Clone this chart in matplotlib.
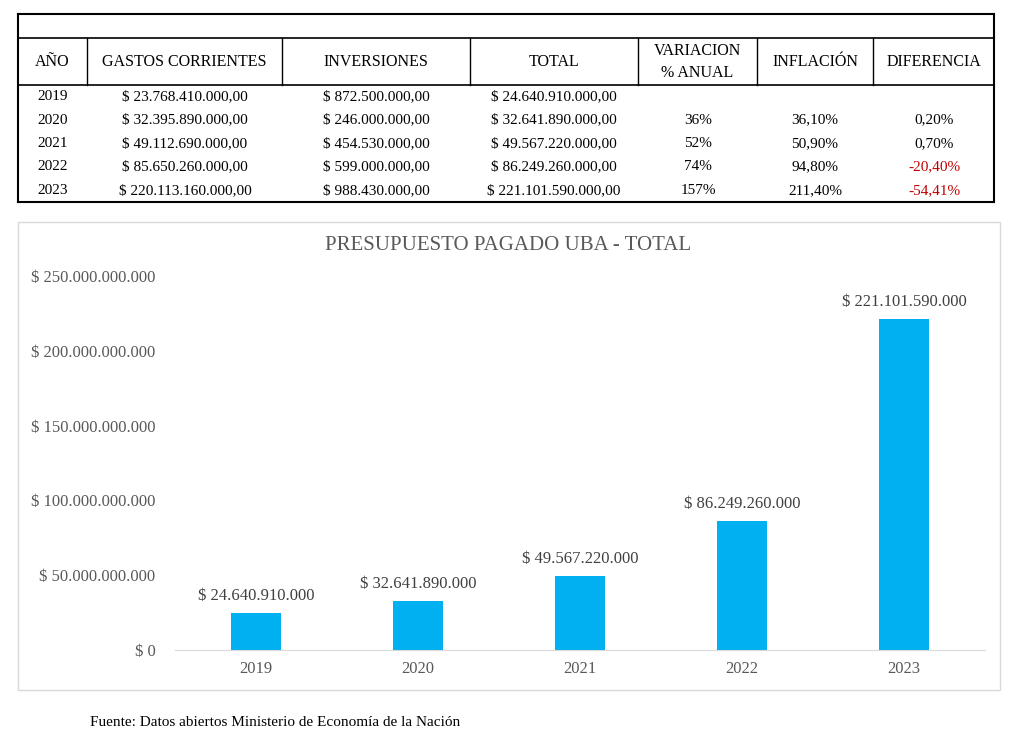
import matplotlib.pyplot as plt
from matplotlib.lines import Line2D
from matplotlib.patches import Rectangle

plt.rcParams['font.family'] = ['Liberation Serif', 'DejaVu Serif']

years = ["2019", "2020", "2021", "2022", "2023"]
gastos = ["$ 23.768.410.000,00", "$ 32.395.890.000,00", "$ 49.112.690.000,00",
          "$ 85.650.260.000,00", "$ 220.113.160.000,00"]
inversiones = ["$ 872.500.000,00", "$ 246.000.000,00", "$ 454.530.000,00",
               "$ 599.000.000,00", "$ 988.430.000,00"]
total_txt = ["$ 24.640.910.000,00", "$ 32.641.890.000,00", "$ 49.567.220.000,00",
             "$ 86.249.260.000,00", "$ 221.101.590.000,00"]
variacion = ["", "36%", "52%", "74%", "157%"]
inflacion = ["", "36,10%", "50,90%", "94,80%", "211,40%"]
diferencia = ["", "0,20%", "0,70%", "-20,40%", "-54,41%"]
headers = ["AÑO", "GASTOS CORRIENTES", "INVERSIONES", "TOTAL",
           "VARIACION\n% ANUAL", "INFLACIÓN", "DIFERENCIA"]
totals = [24640910000, 32641890000, 49567220000, 86249260000, 221101590000]
bar_labels = ["$ 24.640.910.000", "$ 32.641.890.000", "$ 49.567.220.000",
              "$ 86.249.260.000", "$ 221.101.590.000"]

W, H = 1024, 740
fig = plt.figure(figsize=(W / 100, H / 100), dpi=100)

def fx(x):
    return x / W

def fy(y):
    return 1 - y / H

def hline(x0, x1, y, lw=1.2):
    fig.add_artist(Line2D([fx(x0), fx(x1)], [fy(y), fy(y)], color='black', lw=lw))

def vline(x, y0, y1, lw=1.0):
    fig.add_artist(Line2D([fx(x), fx(x)], [fy(y0), fy(y1)], color='black', lw=lw))

# table
cols = [18, 87, 282, 470, 638, 757, 873, 994]
hline(18, 994, 14, 1.5)
hline(18, 994, 38, 1.2)
hline(18, 994, 85, 1.2)
hline(18, 994, 202, 1.5)
vline(18, 14, 202, 1.5)
vline(994, 14, 202, 1.5)
for c in cols[1:-1]:
    vline(c, 38, 85)
for i, h in enumerate(headers):
    fig.text(fx((cols[i] + cols[i + 1]) / 2), fy(62), h, ha='center', va='center',
             fontsize=11.5, linespacing=1.5)
centers = [53, 185, 376, 554, 698, 815, 934]
row_h = 23.4
for r in range(5):
    y = fy(85 + row_h * (r + 0.5))
    vals = [years[r], gastos[r], inversiones[r], total_txt[r],
            variacion[r], inflacion[r], diferencia[r]]
    for i, v in enumerate(vals):
        color = '#c00000' if v.startswith('-') else 'black'
        fig.text(fx(centers[i]), y, v, ha='center', va='center', fontsize=11, color=color)

# chart
fig.add_artist(Rectangle((fx(18), fy(690)), fx(1000) - fx(18), fy(222) - fy(690),
                         fill=False, edgecolor='#d9d9d9', lw=1))
ax = fig.add_axes([fx(175), fy(650), fx(985) - fx(175), fy(276) - fy(650)])
x = range(len(years))
ax.bar(x, totals, width=0.31, color='#00b0f0')
for i, v in enumerate(totals):
    ax.text(i, v + 6e9, bar_labels[i], ha='center', va='bottom', fontsize=12, color='#404040')
ax.set_xlim(-0.5, 4.5)
ax.set_ylim(0, 250e9)
ax.set_xticks(list(x))
ax.set_xticklabels(years, fontsize=12, color='#595959')
ticks = [0, 50e9, 100e9, 150e9, 200e9, 250e9]
ax.set_yticks(ticks)
ax.set_yticklabels(["$ 0", "$ 50.000.000.000", "$ 100.000.000.000", "$ 150.000.000.000",
                    "$ 200.000.000.000", "$ 250.000.000.000"], fontsize=12, color='#595959')
ax.tick_params(length=0, pad=8)
ax.tick_params(axis='y', pad=14)
for s in ['top', 'right', 'left']:
    ax.spines[s].set_visible(False)
ax.spines['bottom'].set_color('#d9d9d9')
fig.text(fx(508), fy(245), "PRESUPUESTO PAGADO UBA - TOTAL", ha='center', va='center',
         fontsize=15, color='#595959')
fig.text(fx(90), fy(722), "Fuente: Datos abiertos Ministerio de Economía de la Nación",
         ha='left', va='center', fontsize=11)

fig.savefig("out.png", dpi=100)
